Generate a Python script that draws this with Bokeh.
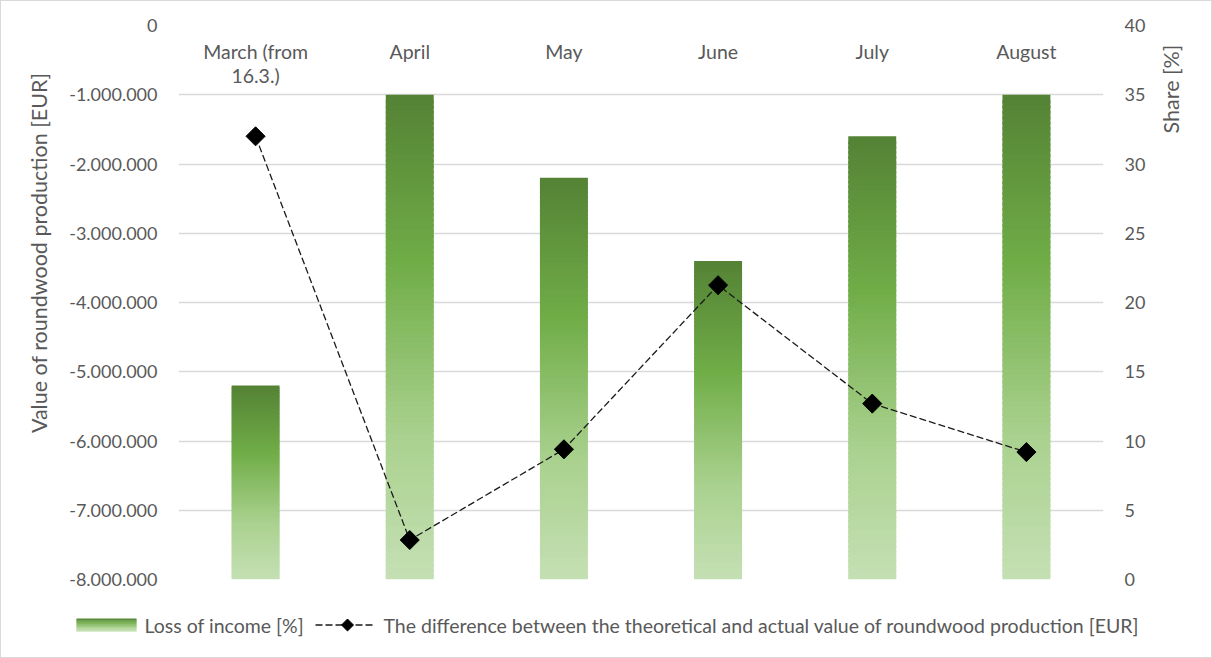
import numpy as np
from bokeh.plotting import figure
from bokeh.models import (Range1d, LinearAxis, FixedTicker, ColumnDataSource, FactorRange,
                          Title, Label)
from bokeh.layouts import column, row
from bokeh.core.properties import value
from bokeh.embed import file_html
from bokeh.resources import INLINE

# ---- data -------------------------------------------------------------
months = ["March (from 16.3.)", "April", "May", "June", "July", "August"]
month_labels = ["March (from\n16.3.)", "April", "May", "June", "July", "August"]
loss_of_income_pct = [14, 35, 29, 23, 32, 35]
value_difference_eur = [-1600000, -7430000, -6120000, -3750000, -5460000, -6160000]

eur_ticks = [0, -1000000, -2000000, -3000000, -4000000, -5000000, -6000000, -7000000, -8000000]
eur_tick_labels = ["0", "-1.000.000", "-2.000.000", "-3.000.000", "-4.000.000",
                   "-5.000.000", "-6.000.000", "-7.000.000", "-8.000.000"]
share_ticks = [0, 5, 10, 15, 20, 25, 30, 35, 40]

# ---- styling ----------------------------------------------------------
FONT = "Lato"
TEXT_COLOR = "#595959"
GRID_COLOR = "#D9D9D9"
TICK_SIZE = "18px"
TEXT_SIZE = "19.5px"
TITLE_SIZE = "21.5px"

# vertical gradient of the bars: dark green on top fading to pale green
GRAD_STOPS = [(0.0, (84, 130, 53)), (0.35, (112, 173, 71)),
              (0.70, (169, 209, 142)), (1.0, (197, 224, 180))]


def grad_color(t):
    for (t0, c0), (t1, c1) in zip(GRAD_STOPS[:-1], GRAD_STOPS[1:]):
        if t <= t1:
            f = (t - t0) / (t1 - t0)
            rgb = [round(a + (b - a) * f) for a, b in zip(c0, c1)]
            return "#%02x%02x%02x" % tuple(rgb)
    return "#%02x%02x%02x" % GRAD_STOPS[-1][1]


N_SLICES = 90
BAR_WIDTH = 0.311

# ---- main chart ---------------------------------------------------------
p = figure(width=1210, height=600, title=None,
           x_range=FactorRange(*months), y_range=Range1d(-8000000, 0),
           x_axis_location=None, output_backend="svg", toolbar_location=None,
           min_border_left=177, min_border_right=108,
           min_border_top=24, min_border_bottom=22)
p.outline_line_color = None
p.xgrid.visible = False
p.ygrid.ticker = FixedTicker(ticks=eur_ticks)
p.ygrid.grid_line_color = GRID_COLOR
p.ygrid.grid_line_width = 1.3

p.extra_y_ranges = {"pct": Range1d(0, 40)}

# bars split into stacked slices so each one carries its own gradient
xs, tops, bottoms, colors = [], [], [], []
for m, v in zip(months, loss_of_income_pct):
    for k in range(N_SLICES):
        t = k / N_SLICES
        xs.append(m)
        tops.append(v * (1 - t))
        bottoms.append(max(0.0, v * (1 - (k + 1.6) / N_SLICES)))
        colors.append(grad_color(t + 0.5 / N_SLICES))
bar_src = ColumnDataSource(dict(x=xs, top=tops, bottom=bottoms, color=colors))
p.vbar(x="x", top="top", bottom="bottom", width=BAR_WIDTH, source=bar_src,
       fill_color="color", line_color=None, y_range_name="pct")

# value difference line with diamond markers
p.line(months, value_difference_eur, line_color="#1a1a1a", line_width=1.3, line_dash="7 3")
p.scatter(months, value_difference_eur, marker="square", angle=np.pi / 4,
          size=13.5, fill_color="black", line_color="black")

# category labels along the top edge
p.text(x=months, y=[0] * len(months), text=month_labels, y_offset=14,
       text_align="center", text_baseline="top", text_line_height=1.05,
       text_font=value(FONT), text_font_size=TEXT_SIZE, text_color=TEXT_COLOR)

# left axis
yax = p.yaxis[0]
yax.ticker = FixedTicker(ticks=eur_ticks)
yax.major_label_overrides = {t: l for t, l in zip(eur_ticks, eur_tick_labels)}
# right axis
rax = LinearAxis(y_range_name="pct", ticker=FixedTicker(ticks=share_ticks))
p.add_layout(rax, "right")

for ax in (yax, rax):
    ax.axis_line_color = None
    ax.major_tick_line_color = None
    ax.minor_tick_line_color = None
    ax.major_tick_out = 0
    ax.major_tick_in = 0
    ax.minor_tick_out = 0
    ax.minor_tick_in = 0
    ax.major_label_standoff = 21
    ax.major_label_text_font = FONT
    ax.major_label_text_font_size = TICK_SIZE
    ax.major_label_text_color = TEXT_COLOR

# axis titles
p.add_layout(Title(text="Value of roundwood production [EUR]", align="right", offset=47,
                   standoff=29, vertical_align="bottom", text_font=FONT,
                   text_font_size=TITLE_SIZE, text_color=TEXT_COLOR,
                   text_font_style="normal"), "left")
p.add_layout(Label(x=6, y=-917000, x_offset=67, text="Share [%]", angle=np.pi / 2,
                   text_align="center", text_baseline="middle", text_font=FONT,
                   text_font_size=TITLE_SIZE, text_color=TEXT_COLOR), "right")

# ---- legend strip ------------------------------------------------------
lg = figure(width=1210, height=56, title=None,
            x_range=Range1d(0, 1210), y_range=Range1d(56, 0),
            x_axis_location=None, y_axis_location=None,
            output_backend="svg", toolbar_location=None, min_border=0)
lg.outline_line_color = None
lg.grid.visible = False

n_sw = 24
sw_top, sw_bot = 17.0, 30.0
sw = dict(left=[], right=[], top=[], bottom=[], color=[])
for k in range(n_sw):
    t = k / n_sw
    sw["left"].append(75)
    sw["right"].append(135)
    sw["top"].append(sw_top + (sw_bot - sw_top) * t)
    sw["bottom"].append(min(sw_bot, sw_top + (sw_bot - sw_top) * (k + 1.6) / n_sw))
    sw["color"].append(grad_color(t + 0.5 / n_sw))
lg.quad(left="left", right="right", top="top", bottom="bottom", fill_color="color",
        line_color=None, source=ColumnDataSource(sw))
lg.text(x=[143], y=[23.5], text=["Loss of income [%]"], text_align="left",
        text_baseline="middle", text_font=value(FONT), text_font_size=TEXT_SIZE,
        text_color=TEXT_COLOR)
lg.line([314, 372], [23.5, 23.5], line_color="#1a1a1a", line_width=1.3, line_dash="7 3")
lg.scatter([346], [23.5], marker="square", angle=np.pi / 4, size=8.5,
           fill_color="black", line_color="black")
lg.text(x=[382], y=[23.5],
        text=["The difference between the theoretical and actual value of roundwood production [EUR]"],
        text_align="left", text_baseline="middle", text_font=value(FONT),
        text_font_size=TEXT_SIZE, text_color=TEXT_COLOR)

layout = column(p, row(lg), spacing=0, styles={"border": "1px solid #D9D9D9"})

open("out.html", "w").write(file_html(layout, INLINE))
